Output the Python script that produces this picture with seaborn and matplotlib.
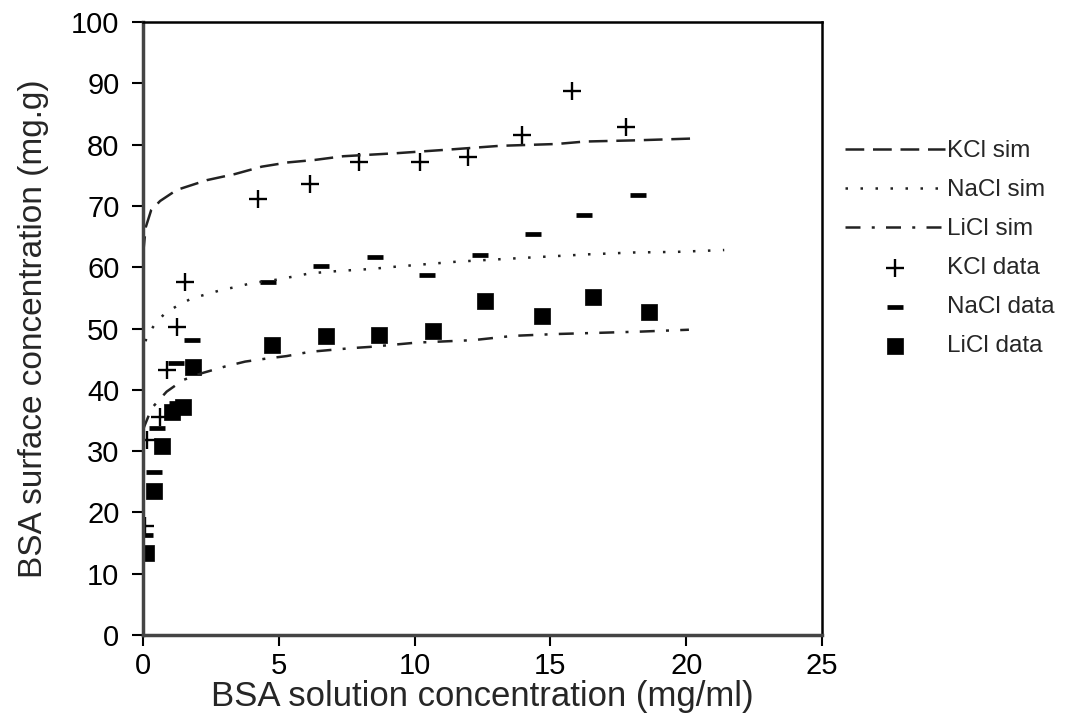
import numpy as np
import pandas as pd
import matplotlib
matplotlib.use("Agg")
import matplotlib.pyplot as plt
import seaborn as sns

# ---- simulated curves ----
kcl_sim_x = [0.0, 0.1, 0.3, 0.63, 1.24, 2.35, 3.39, 4.37, 5.35, 6.33, 7.37, 9.34,
             11.3, 13.14, 15.23, 16.27, 18.18, 20.3]
kcl_sim_y = [62.0, 66.5, 69.3, 70.8, 72.6, 74.2, 75.2, 76.4, 77.1, 77.5, 78.1, 78.6,
             79.2, 79.8, 80.1, 80.5, 80.7, 81.0]

nacl_sim_x = [0.0, 0.13, 0.44, 0.81, 1.3, 1.79, 2.35, 2.9, 3.45, 4.0, 4.98, 6.15,
              7.25, 8.36, 9.34, 10.44, 11.55, 13.14, 14.74, 16.4, 18.05, 19.65, 21.4]
nacl_sim_y = [45.5, 48.7, 50.7, 52.5, 53.8, 54.9, 55.6, 56.3, 56.8, 57.4, 58.0, 59.0,
              59.4, 59.7, 60.1, 60.5, 60.9, 61.3, 61.7, 62.1, 62.4, 62.5, 62.8]

licl_sim_x = [0.0, 0.32, 0.87, 1.48, 2.16, 3.02, 3.76, 4.55, 5.29, 6.15, 7.68, 8.36,
              9.09, 10.08, 12.16, 13.63, 15.23, 16.83, 18.36, 20.1]
licl_sim_y = [33.5, 37.0, 39.7, 41.6, 42.7, 43.8, 44.6, 45.1, 45.5, 46.2, 46.8, 47.0,
              47.3, 47.7, 48.1, 48.8, 49.1, 49.3, 49.5, 49.8]

# ---- measured data ----
kcl_x = [0.07, 0.14, 0.63, 0.87, 1.24, 1.55, 4.25, 6.15, 7.96, 10.2, 11.98, 13.97, 15.78, 17.77]
kcl_y = [17.8, 31.8, 35.6, 43.2, 50.2, 57.6, 71.2, 73.5, 77.2, 77.2, 78.0, 81.6, 88.7, 82.8]

nacl_x = [0.07, 0.4, 0.5, 1.24, 1.2, 1.79, 4.6, 6.54, 8.54, 10.44, 12.41, 14.35, 16.24, 18.21]
nacl_y = [16.3, 26.6, 33.7, 37.8, 44.3, 48.2, 57.6, 60.2, 61.6, 58.7, 62.0, 65.4, 68.5, 71.8]

licl_x = [0.11, 0.4, 0.71, 1.05, 1.48, 1.85, 4.74, 6.74, 8.7, 10.69, 12.59, 14.68, 16.58, 18.64]
licl_y = [13.3, 23.5, 30.9, 36.4, 37.2, 43.7, 47.3, 48.7, 48.9, 49.6, 54.5, 52.0, 55.2, 52.7]

x_ticks = [0, 5, 10, 15, 20, 25]
y_ticks = [0, 10, 20, 30, 40, 50, 60, 70, 80, 90, 100]

sns.set_style("ticks")
plt.rcParams["font.family"] = ["Liberation Sans", "DejaVu Sans"]

fig = plt.figure(figsize=(10.66, 7.22), dpi=100)
ax = fig.add_axes([143 / 1066, 1 - 635 / 722, (822 - 143) / 1066, (635 - 22) / 722])

line_col = "#222222"
lw = 1.8
sns.lineplot(x=kcl_sim_x, y=kcl_sim_y, ax=ax, color=line_col, lw=lw,
             linestyle=(0, (7.5, 3.5)), sort=False, estimator=None, label="KCl sim")
sns.lineplot(x=nacl_sim_x, y=nacl_sim_y, ax=ax, color=line_col, lw=lw,
             linestyle=(0, (1, 5)), sort=False, estimator=None, label="NaCl sim")
sns.lineplot(x=licl_sim_x, y=licl_sim_y, ax=ax, color=line_col, lw=lw,
             linestyle=(0, (6, 4.5, 1.2, 4.5)), sort=False, estimator=None, label="LiCl sim")

sns.scatterplot(x=kcl_x, y=kcl_y, ax=ax, marker="+", s=150, color="black",
                linewidth=1.7, label="KCl data")
sns.scatterplot(x=nacl_x, y=nacl_y, ax=ax, marker="_", s=140, color="black",
                linewidth=3.4, label="NaCl data")
sns.scatterplot(x=licl_x, y=licl_y, ax=ax, marker="s", s=120, color="black",
                edgecolor="black", linewidth=0.5, label="LiCl data")

ax.set_xlim(0, 25)
ax.set_ylim(0, 100)
ax.set_xticks(x_ticks)
ax.set_yticks(y_ticks)
ax.tick_params(axis="both", direction="out", length=8, width=1.5, labelsize=21,
               colors="black")
ax.tick_params(axis="y", pad=9)
ax.tick_params(axis="x", pad=4)
for sp in ax.spines.values():
    sp.set_visible(True)
    sp.set_linewidth(1.8)
    sp.set_color("black")
ax.spines["left"].set_linewidth(2.5)
ax.spines["left"].set_color("#444444")
ax.spines["bottom"].set_linewidth(2.5)
ax.spines["bottom"].set_color("#444444")

ax.set_xlabel("BSA solution concentration (mg/ml)", fontsize=25, labelpad=0)
ax.set_ylabel("BSA surface concentration (mg.g)", fontsize=24, labelpad=16)

handles, labels = ax.get_legend_handles_labels()
order = ["KCl sim", "NaCl sim", "LiCl sim", "KCl data", "NaCl data", "LiCl data"]
hmap = dict(zip(labels, handles))
ax.legend([hmap[k] for k in order], order, loc="upper left",
          bbox_to_anchor=(845 / 1066, 1 - 140 / 722), bbox_transform=fig.transFigure,
          frameon=False, fontsize=17.5, handlelength=4.1, handletextpad=0.1,
          labelspacing=0.7, borderpad=0, borderaxespad=0)

fig.savefig("out.png", dpi=100)
